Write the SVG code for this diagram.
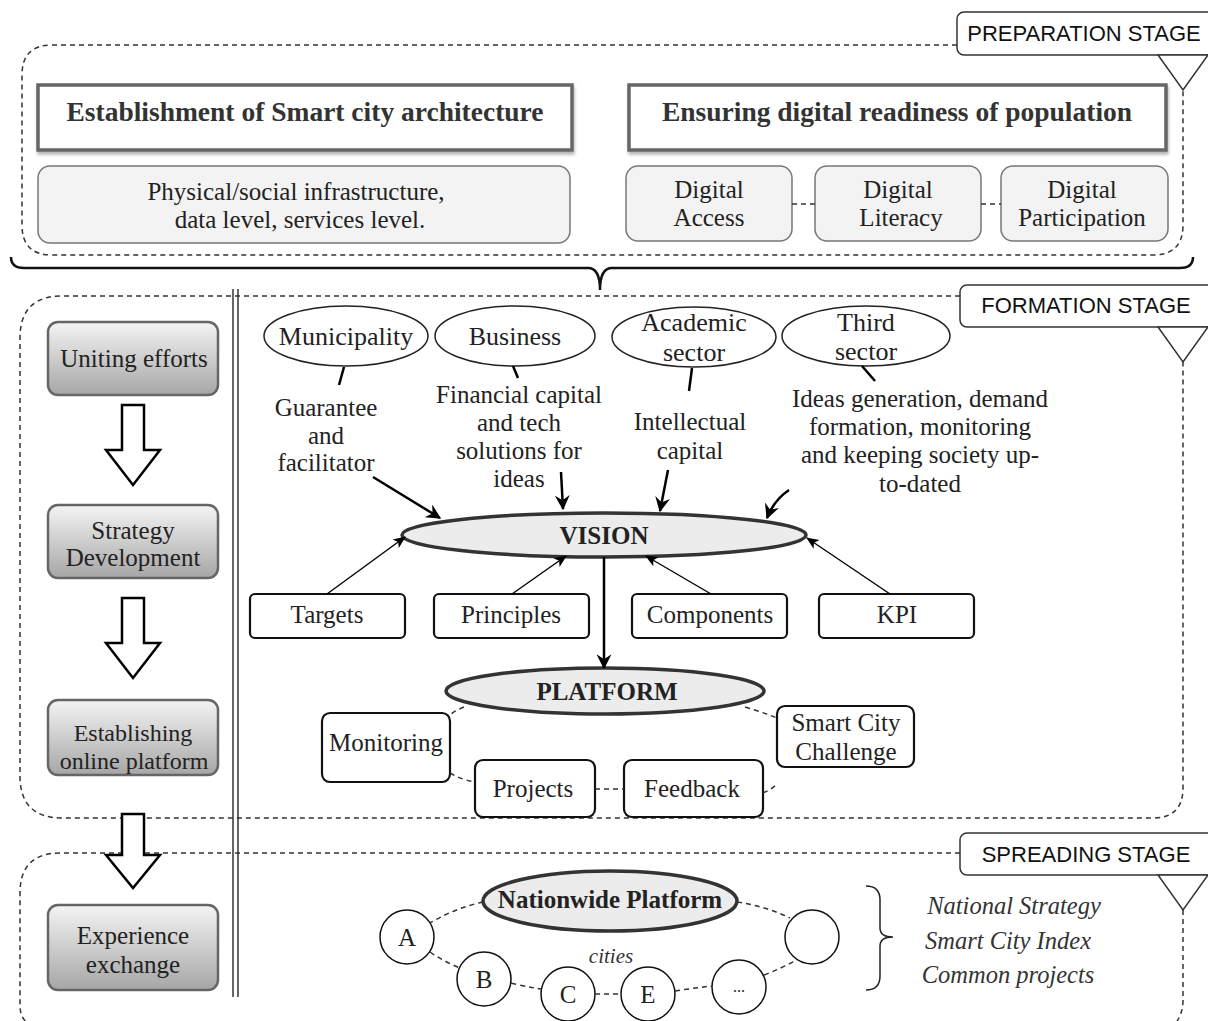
<svg xmlns="http://www.w3.org/2000/svg" width="1208" height="1021" viewBox="0 0 1208 1021">
<defs>
<linearGradient id="gbox" x1="0" y1="0" x2="0" y2="1">
<stop offset="0" stop-color="#f4f4f4"/>
<stop offset="1" stop-color="#a6a6a6"/>
</linearGradient>
<marker id="ahThick" viewBox="0 0 12 12" refX="11" refY="6" markerWidth="6" markerHeight="6" markerUnits="strokeWidth" orient="auto">
<path d="M0,0 L12,6 L0,12 L4,6 Z" fill="#000"/>
</marker>
<marker id="ahThin" viewBox="0 0 12 12" refX="11" refY="6" markerWidth="9" markerHeight="9" markerUnits="strokeWidth" orient="auto">
<path d="M0,1 L12,6 L0,11 L3,6 Z" fill="#000"/>
</marker>
<filter id="shadow" x="-5%" y="-5%" width="110%" height="125%">
<feDropShadow dx="1" dy="3" stdDeviation="1.5" flood-color="#999" flood-opacity="0.7"/>
</filter>
</defs>
<style>
.dash{fill:none;stroke:#333;stroke-width:1.5;stroke-dasharray:5,4}
.dcon{fill:none;stroke:#333;stroke-width:1.5;stroke-dasharray:5,4}
.stageBox{fill:#fff;stroke:#333;stroke-width:1.5}
.stageTxt{font-family:"Liberation Sans",Arial,sans-serif;font-size:22px;fill:#111;text-anchor:middle}
.head{fill:#fff;stroke:#666;stroke-width:3.5}
.headTxt{font-family:"Liberation Serif","Times New Roman",serif;font-weight:bold;font-size:27.5px;fill:#333;text-anchor:middle}
.sub{fill:#f3f3f3;stroke:#777;stroke-width:1.5}
.t{font-family:"Liberation Serif","Times New Roman",serif;font-size:25px;fill:#222;text-anchor:middle}
.gbox{fill:url(#gbox);stroke:#666;stroke-width:2.5}
.blk{fill:#fff;stroke:#000;stroke-width:2.5;stroke-linejoin:miter}
.ell{fill:#fff;stroke:#222;stroke-width:1.5}
.bigell{fill:#ececec;stroke:#333;stroke-width:3.5}
.bold{font-family:"Liberation Serif","Times New Roman",serif;font-weight:bold;font-size:25px;fill:#222;text-anchor:middle}
.wbox{fill:#fff;stroke:#111;stroke-width:2.2}
.circ{fill:#fff;stroke:#111;stroke-width:1.5}
.it{font-family:"Liberation Serif","Times New Roman",serif;font-style:italic;font-size:24.5px;fill:#333;text-anchor:middle}
.thick{fill:none;stroke:#000;stroke-width:2.5}
.thin{fill:none;stroke:#000;stroke-width:1.4}
.tick{fill:none;stroke:#000;stroke-width:2.5}
.e{font-size:26px}
</style>

<!-- Stage frames -->
<g id="preparation-stage">
<path class="dash" d="M957,45 L52,45 Q22,45 22,75 L22,225 Q22,255 52,255 L1153,255 Q1183,255 1183,225 L1183,90"/>
<rect class="stageBox" x="957" y="12" width="260" height="43" rx="7"/>
<text class="stageTxt" x="1084" y="41">PREPARATION STAGE</text>
<path class="stageBox" d="M1158,55 L1208,55 L1183,90 Z"/>
</g>

<g id="formation-stage">
<path class="dash" d="M960,296 L62,296 Q20,296 20,338 L20,776 Q20,818 62,818 L1153,818 Q1183,818 1183,788 L1183,362"/>
<rect class="stageBox" x="960" y="285" width="257" height="42" rx="7"/>
<text class="stageTxt" x="1086" y="313">FORMATION STAGE</text>
<path class="stageBox" d="M1158,327 L1208,327 L1183,362 Z"/>
</g>

<g id="spreading-stage">
<path class="dash" d="M960,853 L60,853 Q20,853 20,893 L20,1005 Q20,1021 32,1025"/>
<path class="dash" d="M1183,910 L1183,1000 Q1183,1014 1175,1024"/>
<rect class="stageBox" x="960" y="833" width="257" height="42" rx="7"/>
<text class="stageTxt" x="1086" y="862">SPREADING STAGE</text>
<path class="stageBox" d="M1158,875 L1208,875 L1183,910 Z"/>
</g>

<!-- brace and separator -->
<g id="brace">
<path d="M11,257 Q11,268 24,268 L588,268 Q600,268 600,290 Q600,268 612,268 L1180,268 Q1193,268 1193,257" fill="none" stroke="#111" stroke-width="2.5"/>
</g>
<g id="separator">
<line x1="233" y1="289" x2="233" y2="997" stroke="#333" stroke-width="1.5"/>
<line x1="238" y1="289" x2="238" y2="997" stroke="#333" stroke-width="1.5"/>
</g>

<!-- Preparation nodes -->
<g id="n-architecture">
<rect class="head" x="38" y="85" width="534" height="65" filter="url(#shadow)"/>
<text class="headTxt" x="305" y="121">Establishment of Smart city architecture</text>
</g>
<g id="n-readiness">
<rect class="head" x="629" y="85" width="537" height="65" filter="url(#shadow)"/>
<text class="headTxt" x="897" y="121">Ensuring digital readiness of population</text>
</g>
<g id="n-infrastructure">
<rect class="sub" x="38" y="166" width="532" height="77" rx="12"/>
<text class="t" x="296" y="200">Physical/social infrastructure,</text>
<text class="t" x="300" y="228">data level, services level.</text>
</g>
<g id="n-access">
<rect class="sub" x="626" y="166" width="166" height="75" rx="12"/>
<text class="t" x="709" y="198">Digital</text>
<text class="t" x="709" y="226">Access</text>
</g>
<g id="n-literacy">
<rect class="sub" x="815" y="166" width="166" height="75" rx="12"/>
<text class="t" x="898" y="198">Digital</text>
<text class="t" x="901" y="226">Literacy</text>
</g>
<g id="n-participation">
<rect class="sub" x="1001" y="166" width="167" height="75" rx="12"/>
<text class="t" x="1082" y="198">Digital</text>
<text class="t" x="1082" y="226">Participation</text>
</g>

<!-- Left column stages -->
<g id="n-uniting">
<rect class="gbox" x="48" y="322" width="170" height="73" rx="10"/>
<text class="t" x="134" y="367">Uniting efforts</text>
</g>
<g id="n-strategy">
<rect class="gbox" x="48" y="505" width="170" height="73" rx="10"/>
<text class="t" x="133" y="539">Strategy</text>
<text class="t" x="133" y="566">Development</text>
</g>
<g id="n-establishing">
<rect class="gbox" x="48" y="700" width="170" height="75" rx="10"/>
<text class="t" x="133" y="741" style="font-size:24px">Establishing</text>
<text class="t" x="134" y="769" style="font-size:24px">online platform</text>
</g>
<g id="n-experience">
<rect class="gbox" x="48" y="905" width="170" height="85" rx="10"/>
<text class="t" x="133" y="944">Experience</text>
<text class="t" x="133" y="973">exchange</text>
</g>

<!-- Actor ellipses -->
<g id="n-municipality">
<ellipse class="ell" cx="346" cy="336" rx="82" ry="30"/>
<text class="t e" x="346" y="345">Municipality</text>
</g>
<g id="n-business">
<ellipse class="ell" cx="515" cy="336" rx="80" ry="30"/>
<text class="t e" x="515" y="345">Business</text>
</g>
<g id="n-academic">
<ellipse class="ell" cx="694" cy="337" rx="82" ry="30"/>
<text class="t e" x="694" y="331">Academic</text>
<text class="t e" x="694" y="361">sector</text>
</g>
<g id="n-third">
<ellipse class="ell" cx="866" cy="336" rx="84" ry="30"/>
<text class="t e" x="866" y="331">Third</text>
<text class="t e" x="866" y="360">sector</text>
</g>

<!-- Role texts -->
<g id="n-role-municipality">
<text class="t" x="326" y="416">Guarantee</text>
<text class="t" x="326" y="444">and</text>
<text class="t" x="326" y="471">facilitator</text>
</g>
<g id="n-role-business">
<text class="t" x="519" y="403">Financial capital</text>
<text class="t" x="519" y="431">and tech</text>
<text class="t" x="519" y="459">solutions for</text>
<text class="t" x="519" y="487">ideas</text>
</g>
<g id="n-role-academic">
<text class="t" x="690" y="430">Intellectual</text>
<text class="t" x="690" y="459">capital</text>
</g>
<g id="n-role-third">
<text class="t" x="920" y="407">Ideas generation, demand</text>
<text class="t" x="920" y="435">formation, monitoring</text>
<text class="t" x="920" y="463">and keeping society up-</text>
<text class="t" x="920" y="492">to-dated</text>
</g>

<!-- Vision / Platform -->
<g id="n-vision">
<ellipse class="bigell" cx="604" cy="535" rx="202" ry="22"/>
<text class="bold" x="604" y="544">VISION</text>
</g>
<g id="n-targets"><rect class="wbox" x="250" y="594" width="155" height="44" rx="5"/><text class="t" x="327" y="623">Targets</text></g>
<g id="n-principles"><rect class="wbox" x="434" y="594" width="155" height="44" rx="5"/><text class="t" x="511" y="623">Principles</text></g>
<g id="n-components"><rect class="wbox" x="632" y="594" width="155" height="44" rx="5"/><text class="t" x="710" y="623">Components</text></g>
<g id="n-kpi"><rect class="wbox" x="819" y="594" width="155" height="44" rx="5"/><text class="t" x="897" y="623">KPI</text></g>

<g id="n-platform">
<ellipse class="bigell" cx="605" cy="691" rx="159" ry="23"/>
<text class="bold" x="607" y="700">PLATFORM</text>
</g>
<g id="n-monitoring"><rect class="wbox" x="322" y="713" width="128" height="69" rx="8"/><text class="t" x="386" y="751">Monitoring</text></g>
<g id="n-scc"><rect class="wbox" x="777" y="706" width="137" height="61" rx="8"/><text class="t" x="846" y="731">Smart City</text><text class="t" x="846" y="760">Challenge</text></g>
<g id="n-projects"><rect class="wbox" x="475" y="760" width="120" height="57" rx="8"/><text class="t" x="533" y="797">Projects</text></g>
<g id="n-feedback"><rect class="wbox" x="624" y="760" width="139" height="57" rx="8"/><text class="t" x="692" y="797">Feedback</text></g>

<!-- Spreading -->
<g id="n-nationwide">
<ellipse class="bigell" cx="610" cy="901" rx="127" ry="30"/>
<text class="bold" x="610" y="908">Nationwide Platform</text>
</g>
<g id="n-city-a"><circle class="circ" cx="407" cy="937" r="27"/><text class="t" x="407" y="946">A</text></g>
<g id="n-city-b"><circle class="circ" cx="484" cy="979" r="27"/><text class="t" x="484" y="988">B</text></g>
<g id="n-city-c"><circle class="circ" cx="568" cy="994" r="27"/><text class="t" x="568" y="1003">C</text></g>
<g id="n-city-e"><circle class="circ" cx="648" cy="994" r="27"/><text class="t" x="648" y="1003">E</text></g>
<g id="n-city-more"><circle class="circ" cx="739" cy="987" r="27"/><text class="t" x="739" y="992" style="font-size:16px">...</text></g>
<g id="n-city-empty"><circle class="circ" cx="812" cy="937" r="27"/></g>
<g id="n-cities-label"><text class="it" x="611" y="963" style="font-size:21px">cities</text></g>
<g id="n-outcomes">
<path d="M866,886 Q880,886 880,900 L880,928 Q880,937 893,937 Q880,937 880,946 L880,976 Q880,990 866,990" fill="none" stroke="#222" stroke-width="1.5"/>
<text class="it" x="1014" y="914">National Strategy</text>
<text class="it" x="1008" y="949">Smart City Index</text>
<text class="it" x="1008" y="983">Common projects</text>
</g>

<!-- Connectors -->
<g id="connectors">
<line x1="792" y1="204" x2="815" y2="204" class="dcon"/>
<line x1="981" y1="204" x2="1001" y2="204" class="dcon"/>
<!-- block arrows -->
<path class="blk" d="M122,405 L144,405 L144,450 L160,450 L133,485 L106,450 L122,450 Z"/>
<path class="blk" d="M122,598 L144,598 L144,643 L160,643 L133,678 L106,643 L122,643 Z"/>
<path class="blk" d="M122,814 L144,814 L144,855 L160,855 L133,888 L106,855 L122,855 Z"/>
<!-- ticks -->
<line class="tick" x1="344" y1="367" x2="339" y2="385"/>
<line class="tick" x1="513" y1="366" x2="518" y2="378"/>
<line class="tick" x1="692" y1="368" x2="689" y2="391"/>
<line class="tick" x1="862" y1="366" x2="875" y2="381"/>
<!-- to vision -->
<line class="thick" x1="373" y1="477" x2="440" y2="518" marker-end="url(#ahThick)"/>
<line class="thick" x1="561" y1="472" x2="563" y2="509" marker-end="url(#ahThick)"/>
<line class="thick" x1="668" y1="470" x2="660" y2="511" marker-end="url(#ahThick)"/>
<path class="thick" d="M789,490 Q774,500 767,518" marker-end="url(#ahThick)"/>
<line class="thin" x1="327" y1="594" x2="405" y2="537" marker-end="url(#ahThin)"/>
<line class="thin" x1="512" y1="594" x2="566" y2="556" marker-end="url(#ahThin)"/>
<line class="thin" x1="711" y1="594" x2="646" y2="556" marker-end="url(#ahThin)"/>
<line class="thin" x1="890" y1="594" x2="807" y2="538" marker-end="url(#ahThin)"/>
<line class="thick" x1="604" y1="557" x2="604" y2="668" stroke-width="2" marker-end="url(#ahThick)"/>
<!-- platform dashed -->
<path class="dcon" d="M464,707 Q456,710 450,715"/>
<path class="dcon" d="M450,773 Q462,780 475,782"/>
<line class="dcon" x1="595" y1="789" x2="624" y2="789"/>
<path class="dcon" d="M763,793 Q771,790 777,784"/>
<path class="dcon" d="M745,707 Q762,712 777,718"/>
<!-- nationwide dashed -->
<path class="dcon" d="M483,902 Q455,908 430,923"/>
<path class="dcon" d="M430,952 Q445,962 460,968"/>
<path class="dcon" d="M511,983 Q527,987 541,989"/>
<line class="dcon" x1="595" y1="994" x2="621" y2="994"/>
<path class="dcon" d="M675,991 Q694,988 712,986"/>
<path class="dcon" d="M764,975 Q782,968 797,960"/>
<path class="dcon" d="M737,902 Q765,906 790,918"/>
</g>
</svg>
